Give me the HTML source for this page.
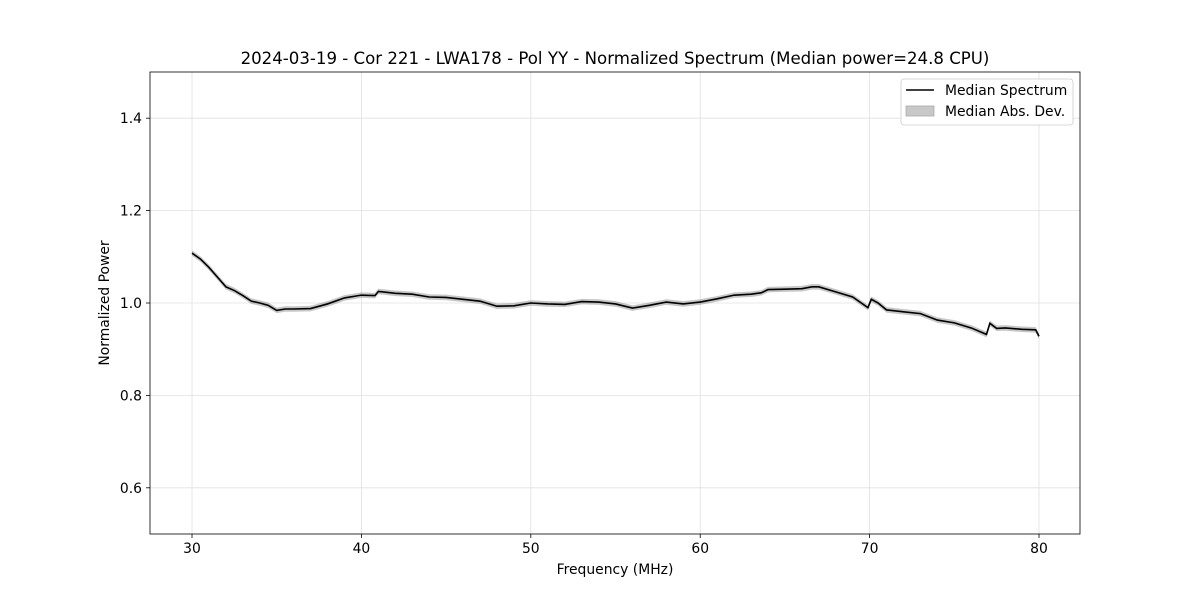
<!DOCTYPE html>
<html><head><meta charset="utf-8"><style>
body{margin:0;background:#fff;}
svg text{font-family:"DejaVu Sans","Liberation Sans",sans-serif;}
</style></head><body>
<svg id="chart" width="1200" height="600" xmlns="http://www.w3.org/2000/svg"></svg>
<script>
const freqs=[30,30.5,31,31.5,32,32.5,33,33.5,34,34.5,35,35.5,36,37,38,39,40,40.8,41,42,43,44,45,46,47,48,49,50,51,52,53,54,55,56,57,58,59,60,61,62,63,63.6,64,65,66,66.6,67,68,69,69.9,70.1,70.5,71,72,73,74,75,76,76.9,77.1,77.5,78,79,79.8,80];
const medians=[1.108,1.095,1.077,1.056,1.035,1.027,1.016,1.004,1.0,0.995,0.984,0.987,0.987,0.988,0.998,1.011,1.017,1.016,1.025,1.021,1.019,1.013,1.012,1.008,1.004,0.993,0.994,1.0,0.998,0.997,1.003,1.002,0.998,0.989,0.995,1.002,0.998,1.002,1.009,1.017,1.019,1.022,1.029,1.03,1.031,1.035,1.035,1.024,1.013,0.99,1.008,1.0,0.985,0.981,0.977,0.963,0.957,0.946,0.932,0.956,0.945,0.946,0.943,0.942,0.928];
const mad=0.006;
const xTicks=[30,40,50,60,70,80];
const yTicks=[0.6,0.8,1.0,1.2,1.4];
const L=150,R=1080,T=72,B=534, xMin=27.52,xMax=82.42,yMin=0.5,yMax=1.5;
const sx=v=>L+(v-xMin)/(xMax-xMin)*(R-L);
const sy=v=>B-(v-yMin)/(yMax-yMin)*(B-T);
const svg=document.getElementById('chart');
const NS='http://www.w3.org/2000/svg';
function mk(tag,attrs,parent){const e=document.createElementNS(NS,tag);for(const k in attrs)e.setAttribute(k,attrs[k]);(parent||svg).appendChild(e);return e;}
xTicks.forEach(t=>{const g=mk('line',{x1:sx(t),x2:sx(t),y1:T,y2:B,stroke:'#e0e0e0','stroke-width':0.8});


const tk=mk('line',{x1:sx(t),x2:sx(t),y1:B,y2:B+4,stroke:'#000','stroke-width':0.8});


const tx=mk('text',{x:sx(t),y:B+19,'text-anchor':'middle','font-size':13.9});tx.textContent=t;

});
yTicks.forEach(t=>{const g=mk('line',{x1:L,x2:R,y1:sy(t),y2:sy(t),stroke:'#e0e0e0','stroke-width':0.8});


const tk=mk('line',{x1:L-4,x2:L,y1:sy(t),y2:sy(t),stroke:'#000','stroke-width':0.8});


const tx=mk('text',{x:L-8,y:sy(t)+5,'text-anchor':'end','font-size':13.9});tx.textContent=t.toFixed(1);

});
let up=freqs.map((f,i)=>sx(f)+','+sy(medians[i]+mad)).join(' ');
let dn=freqs.map((f,i)=>sx(f)+','+sy(medians[i]-mad)).reverse().join(' ');
const band=mk('polygon',{points:up+' '+dn,fill:'#000','fill-opacity':0.22,stroke:'none'});


const line=mk('polyline',{points:freqs.map((f,i)=>sx(f)+','+sy(medians[i])).join(' '),fill:'none',stroke:'#000','stroke-width':1.6});


const frame=mk('rect',{x:L,y:T,width:R-L,height:B-T,fill:'none',stroke:'#000','stroke-width':0.8});


const title=mk('text',{x:615,y:64,'text-anchor':'middle','font-size':16.6});title.textContent='2024-03-19 - Cor 221 - LWA178 - Pol YY - Normalized Spectrum (Median power=24.8 CPU)';


const xl=mk('text',{x:615,y:574,'text-anchor':'middle','font-size':13.9});xl.textContent='Frequency (MHz)';


const yl=mk('text',{x:109,y:303,'text-anchor':'middle','font-size':13.9,transform:'rotate(-90 109 303)'});yl.textContent='Normalized Power';


const lg=mk('g',{});


mk('rect',{x:901,y:79,width:172,height:46,rx:3,fill:'#fff',stroke:'#ccc','stroke-width':0.8},lg);
mk('line',{x1:906,x2:934,y1:90,y2:90,stroke:'#000','stroke-width':1.6},lg);
const t1=mk('text',{x:945,y:95,'font-size':13.9},lg);t1.textContent='Median Spectrum';


mk('rect',{x:906,y:106,width:28,height:10,fill:'#c8c8c8',stroke:'#aaa','stroke-width':0.8},lg);
const t2=mk('text',{x:945,y:116,'font-size':13.9},lg);t2.textContent='Median Abs. Dev.';


</script>
</body></html>
